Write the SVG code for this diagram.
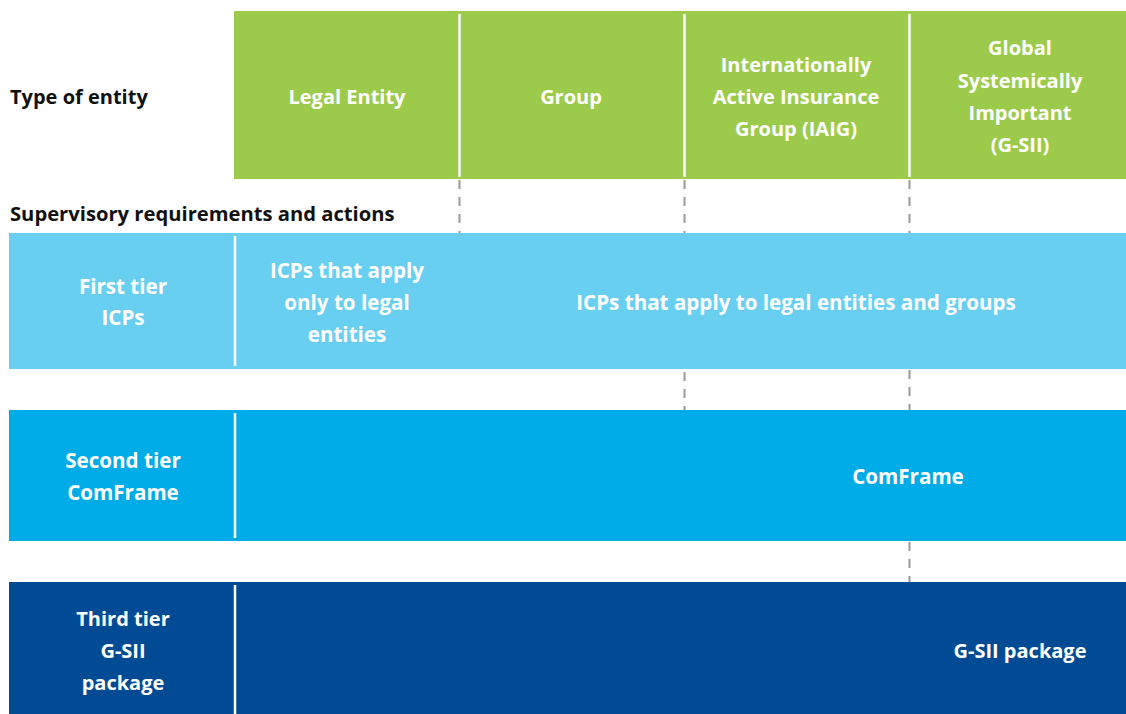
<svg xmlns="http://www.w3.org/2000/svg" width="1126" height="714" viewBox="0 0 1126 714">
<style>
text{font-family:"Open Sans","Noto Sans","Liberation Sans",sans-serif;font-weight:700;font-size:20px}
.w{fill:#fff;text-anchor:middle}
.b{font-size:20.6px}
.k{fill:#111}
.div{stroke:#fff;stroke-width:2.5}
.dash{stroke:#999;stroke-width:2;stroke-dasharray:9 8;fill:none}
</style>
<rect width="1126" height="714" fill="#fff"/>
<g id="labels">
<text class="k" x="10" y="104">Type of entity</text>
<text class="k" x="10" y="221" style="font-size:20.2px">Supervisory requirements and actions</text>
</g>
<g id="header">
<rect x="234" y="11" width="892" height="168" fill="#9CCB4C"/>
<line class="div" x1="459.5" y1="14" x2="459.5" y2="177"/>
<line class="div" x1="684.5" y1="14" x2="684.5" y2="177"/>
<line class="div" x1="909.5" y1="14" x2="909.5" y2="177"/>
<text class="w" x="347" y="104">Legal Entity</text>
<text class="w" x="571" y="104">Group</text>
<text class="w" x="796" y="72">Internationally</text>
<text class="w" x="796" y="104">Active Insurance</text>
<text class="w" x="796" y="136">Group (IAIG)</text>
<text class="w" x="1020" y="55">Global</text>
<text class="w" x="1020" y="88">Systemically</text>
<text class="w" x="1020" y="120">Important</text>
<text class="w" x="1020" y="152">(G-SII)</text>
</g>
<g id="tier1">
<rect x="9" y="233" width="1117" height="136" fill="#69CFF1"/>
<line class="div" x1="235" y1="236" x2="235" y2="366"/>
<text class="w b" x="123" y="294">First tier</text>
<text class="w b" x="123" y="325">ICPs</text>
<text class="w b" x="347" y="278">ICPs that apply</text>
<text class="w b" x="347" y="310">only to legal</text>
<text class="w b" x="347" y="342">entities</text>
<text class="w b" x="796" y="310">ICPs that apply to legal entities and groups</text>
</g>
<g id="tier2">
<rect x="9" y="410" width="1117" height="131" fill="#00ACE7"/>
<line class="div" x1="235" y1="413" x2="235" y2="538"/>
<text class="w b" x="123" y="468">Second tier</text>
<text class="w b" x="123" y="500">ComFrame</text>
<text class="w b" x="908" y="484">ComFrame</text>
</g>
<g id="tier3">
<rect x="9" y="582" width="1117" height="132" fill="#004B93"/>
<line class="div" x1="235" y1="585" x2="235" y2="714"/>
<text class="w" x="123" y="626">Third tier</text>
<text class="w" x="123" y="658">G-SII</text>
<text class="w" x="123" y="690">package</text>
<text class="w" x="1020" y="658">G-SII package</text>
</g>
<g id="connectors">
<line class="dash" x1="459.5" y1="180" x2="459.5" y2="233"/>
<line class="dash" x1="684.5" y1="180" x2="684.5" y2="233"/>
<line class="dash" x1="909.5" y1="180" x2="909.5" y2="233"/>
<line class="dash" x1="684.5" y1="372" x2="684.5" y2="410"/>
<line class="dash" x1="909.5" y1="370" x2="909.5" y2="410"/>
<line class="dash" x1="909.5" y1="542" x2="909.5" y2="582"/>
</g>
</svg>
